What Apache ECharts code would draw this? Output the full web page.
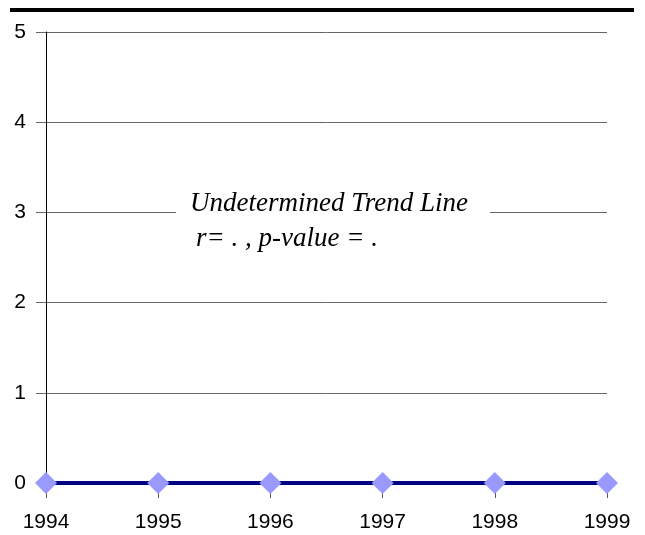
<!DOCTYPE html>
<html lang="en">
<head>
  <meta charset="UTF-8">
  <script src="https://cdn.jsdelivr.net/npm/echarts@6/dist/echarts.min.js"></script>
  <title>Undetermined Trend Line</title>
  <style>
    html, body { margin: 0; padding: 0; background: #fff; }
    #chart { width: 645px; height: 535px; }
  </style>
</head>
<body>
<div id="chart"></div>
<script>
  // 数据
  var years = ['1994', '1995', '1996', '1997', '1998', '1999'];
  var values = [0, 0, 0, 0, 0, 0];
  var trendTitle = 'Undetermined Trend Line';
  var trendStats = 'r= . , p-value = .';

  var myChart = echarts.init(document.getElementById('chart'));

  var option = {
    animation: false,
    backgroundColor: '#fff',
    grid: { left: 46, right: 38, top: 32, bottom: 52 },
    xAxis: {
      type: 'category',
      data: years,
      boundaryGap: false,
      axisLine: { lineStyle: { color: '#000', width: 1 } },
      axisTick: { length: 15, lineStyle: { color: '#555' } },
      axisLabel: { color: '#000', fontSize: 21, fontFamily: 'Liberation Sans', margin: 29 },
      splitLine: { show: false }
    },
    yAxis: {
      type: 'value',
      min: 0, max: 5, interval: 1,
      axisLine: { show: true, lineStyle: { color: '#000', width: 1 } },
      axisTick: { show: true, length: 10, lineStyle: { color: '#666' } },
      axisLabel: { color: '#000', fontSize: 21, fontFamily: 'Liberation Sans', margin: 20 },
      splitLine: { lineStyle: { color: '#666', width: 1 } }
    },
    series: [{
      type: 'line',
      data: values,
      symbol: 'diamond',
      symbolSize: 22,
      lineStyle: { color: '#000080', width: 4 },
      itemStyle: { color: '#9999ff' },
      z: 3
    }],
    graphic: [
      { type: 'rect', shape: { x: 10, y: 8, width: 624, height: 4 }, style: { fill: '#000' } },
      { type: 'rect', shape: { x: 176, y: 188, width: 314, height: 68 }, style: { fill: '#fff' }, z: 10 },
      {
        type: 'text', left: 190, top: 190, z: 11,
        style: { text: trendTitle, font: 'italic 27px "Liberation Serif"', fill: '#000' }
      },
      {
        type: 'text', left: 196, top: 225, z: 11,
        style: { text: trendStats, font: 'italic 27px "Liberation Serif"', fill: '#000' }
      }
    ]
  };

  myChart.setOption(option);
</script>
</body>
</html>
